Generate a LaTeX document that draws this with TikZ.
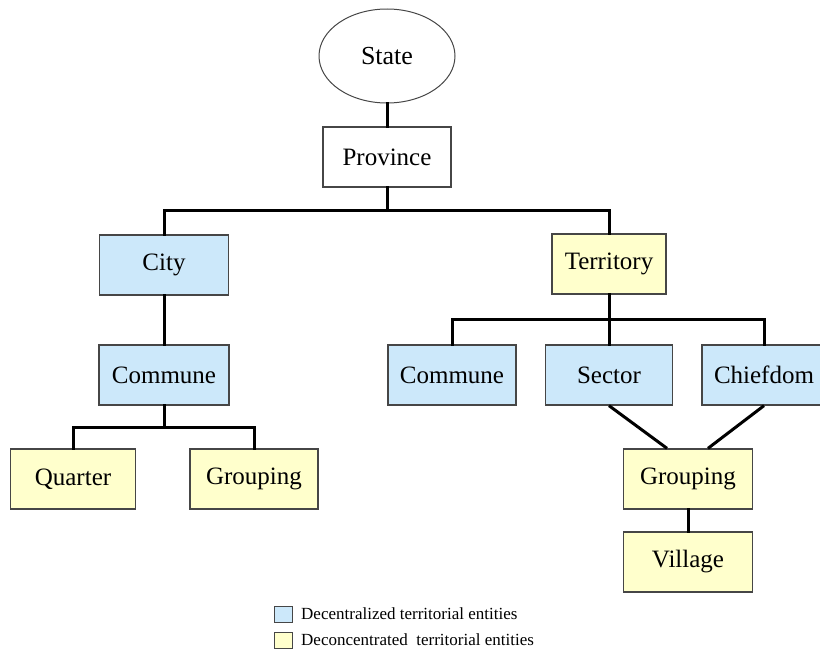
\documentclass[tikz,border=0pt]{standalone}
\usepackage{fontspec}
\setmainfont{Liberation Serif}
\usetikzlibrary{shapes.geometric}
\definecolor{dblue}{RGB}{204,232,250}
\definecolor{dyellow}{RGB}{255,255,204}
\definecolor{bord}{RGB}{70,70,70}
\tikzset{
  box/.style={draw=bord, line width=1.3pt, minimum height=60pt, inner sep=0pt,
    font=\fontsize{25}{30}\selectfont},
  blue/.style={box, fill=dblue},
  yel/.style={box, fill=dyellow},
  conn/.style={line width=3pt, line cap=rect},
  legbox/.style={draw=bord, line width=0.9pt, minimum width=18pt, minimum height=16pt, inner sep=0pt},
  legtext/.style={anchor=west, inner sep=0pt, font=\fontsize{17}{20}\selectfont}
}
\begin{document}
\begin{tikzpicture}[x=1pt,y=-1pt]
\useasboundingbox (0,0) rectangle (820,653);
\node[ellipse, draw=bord, line width=1pt, minimum width=136pt, minimum height=94pt, inner sep=0pt,
  font=\fontsize{26}{30}\selectfont] (State) at (387,56) {State};
\node[box, fill=white, minimum width=128pt] (Province) at (387,157) {Province};
\node[blue, minimum width=129pt] (City) at (164,265) {City};
\node[blue, minimum width=130pt] (CommuneL) at (164,375) {Commune};
\node[yel, minimum width=125pt] (Quarter) at (73,479) {Quarter};
\node[yel, minimum width=128pt] (GroupingL) at (254,479) {Grouping};
\node[yel, minimum width=114pt] (Territory) at (609,264) {Territory};
\node[blue, minimum width=128pt] (CommuneR) at (452,375) {Commune};
\node[blue, minimum width=127pt] (Sector) at (609,375) {Sector};
\node[blue, minimum width=124pt] (Chiefdom) at (764,375) {Chiefdom};
\node[yel, minimum width=129pt] (GroupingR) at (688,479) {Grouping};
\node[yel, minimum width=129pt] (Village) at (688,562) {Village};

\coordinate (pb) at (387,210);
\coordinate (cb) at (164,427);
\coordinate (tb) at (609,319);

\draw[conn] (State) -- (Province);
\draw[conn] (Province) -- (pb);
\draw[conn] (City.north) |- (pb) -| (Territory.north);
\draw[conn] (City) -- (CommuneL);
\draw[conn] (CommuneL) -- (cb);
\draw[conn] (Quarter.north) |- (cb) -| (GroupingL.north);
\draw[conn] (Territory) -- (Sector);
\draw[conn] (CommuneR.north) |- (tb) -| (Chiefdom.north);
\draw[conn, line cap=butt] (Sector.south) -- ([xshift=-21pt]GroupingR.north);
\draw[conn, line cap=butt] (Chiefdom.south) -- ([xshift=20pt]GroupingR.north);
\draw[conn] (GroupingR) -- (Village);

\node[legbox, fill=dblue] (lb1) at (283,614) {};
\node[legbox, fill=dyellow] (lb2) at (283,640) {};
\node[legtext] (lt1) at (301,614) {Decentralized territorial entities};
\node[legtext] (lt2) at (301,640) {Deconcentrated\ \ territorial entities};
\end{tikzpicture}
\end{document}
